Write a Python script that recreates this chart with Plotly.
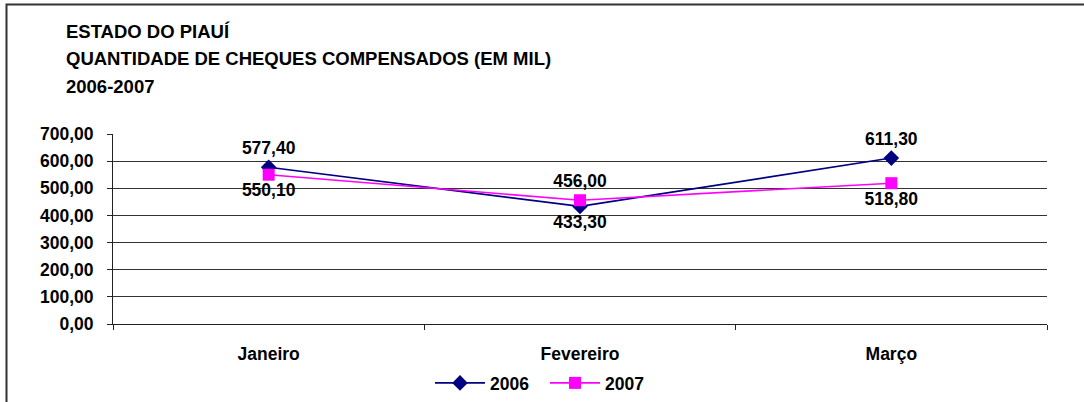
import plotly.graph_objects as go

# Monthly cleared-cheque counts (thousands), Piauí state
meses = ["Janeiro", "Fevereiro", "Março"]
valores_2006 = [577.40, 433.30, 611.30]
valores_2007 = [550.10, 456.00, 518.80]
pos_2006 = ["top center", "bottom center", "top center"]
pos_2007 = ["bottom center", "top center", "bottom center"]

FONT = "Liberation Sans, Arial, sans-serif"
label_font = dict(family=FONT, size=17.5, color="black", weight="bold")

fig = go.Figure()
fig.add_trace(go.Scatter(
    x=meses, y=valores_2006, name="2006", mode="lines+markers+text",
    line=dict(color="#000080", width=1.6),
    marker=dict(symbol="diamond", size=12, color="#000080"),
    texttemplate="%{y:.2f}", textposition=pos_2006, textfont=label_font,
    cliponaxis=False,
))
fig.add_trace(go.Scatter(
    x=meses, y=valores_2007, name="2007", mode="lines+markers+text",
    line=dict(color="#FF00FF", width=1.6),
    marker=dict(symbol="square", size=12, color="#FF00FF"),
    texttemplate="%{y:.2f}", textposition=pos_2007, textfont=label_font,
    cliponaxis=False,
))

titulo = ["ESTADO DO PIAUÍ", "QUANTIDADE DE CHEQUES COMPENSADOS (EM MIL)", "2006-2007"]
for i, linha in enumerate(titulo):
    fig.add_annotation(
        text=linha, xref="paper", yref="paper",
        x=(64 - 113) / 934, y=(402 - 78 - (31 + 27.5 * i)) / 190,
        xanchor="left", yanchor="middle", showarrow=False,
        font=dict(family=FONT, size=18.5, color="black", weight="bold"),
    )

# outer chart border
fig.add_shape(
    type="rect", xref="paper", yref="paper",
    x0=(6.5 - 113) / 934, x1=(1100 - 113) / 934,
    y0=(402 - 420 - 78) / 190, y1=(402 - 4.5 - 78) / 190,
    line=dict(color="#333333", width=2), layer="below",
)

fig.update_layout(
    width=1084, height=402,
    margin=dict(l=113, r=37, t=134, b=78, autoexpand=False),
    paper_bgcolor="white", plot_bgcolor="white",
    separators=",.",
    font=dict(family=FONT, size=17.5, color="black"),
    showlegend=True,
    legend=dict(
        orientation="h", x=(430 - 113) / 934, xanchor="left",
        y=-(383 - 324) / 190, yanchor="middle",
        font=dict(family=FONT, size=17.5, color="black", weight="bold"),
        tracegroupgap=0, itemwidth=50, entrywidth=50,
    ),
)
fig.update_xaxes(
    type="category", range=[-0.5, 2.5], automargin=False,
    showline=True, linecolor="#222222", linewidth=1,
    ticks="outside", tickson="boundaries", ticklen=5, tickcolor="#222222",
    showgrid=False, zeroline=False,
    tickfont=dict(family=FONT, size=17.5, color="black", weight="bold"),
    ticklabelstandoff=14,
)
fig.update_yaxes(
    range=[0, 700], dtick=100, tickformat=".2f", automargin=False,
    showline=True, linecolor="#222222", linewidth=1,
    ticks="outside", ticklen=5, tickcolor="#222222",
    showgrid=True, gridcolor="#333333", gridwidth=1, zeroline=False,
    tickfont=dict(family=FONT, size=17.5, color="black", weight="bold"),
    ticklabelstandoff=10,
)

fig.write_html("out.html")
